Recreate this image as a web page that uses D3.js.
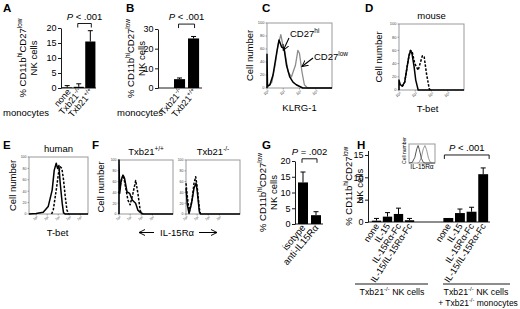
<!DOCTYPE html>
<html><head><meta charset="utf-8">
<script src="https://cdn.jsdelivr.net/npm/d3@7"></script>
<style>body{margin:0;background:#fff} svg{display:block} text{font-family:"Liberation Sans",Arial,sans-serif}</style>
</head><body><svg id="c" width="520" height="309"></svg>
<script>
// ---------------- DATA ----------------
// Panel A
const aCategories = ["none", "Txb21{-/-}", "Txb21{+/+}"];
const aValues = [0.2, 0.4, 15.5];
const aErrors = [0.6, 1.0, 3.6];
const aTicks = [0, 5, 10, 15, 20];
// Panel B
const bCategories = ["Txb21{-/-}", "Txb21{+/+}"];
const bValues = [4.5, 25.2];
const bErrors = [0.6, 1.0];
const bTicks = [0, 10, 20, 30];
// Panel G
const gCategories = ["isotype", "anti-IL15Rα"];
const gValues = [13.2, 2.8];
const gErrors = [3.3, 1.1];
const gTicks = [0, 5, 10, 15, 20];
// Panel H
const hCategories = ["none", "IL-15", "IL-15Rα-Fc", "IL-15/IL-15Rα-Fc"];
const hValuesNK = [0.3, 1.2, 1.8, 0.4];
const hErrorsNK = [0.5, 0.9, 1.3, 0.4];
const hValuesMono = [0.9, 2.0, 2.3, 10.7];
const hErrorsMono = [0, 0.9, 1.0, 1.4];
const hTicks = [0, 5, 10, 15];
const hGroupLabels = [["Txb21{-/-} NK cells"], ["Txb21{-/-} NK cells", "+ Txb21{-/-} monocytes"]];
// Flow histograms: [log10 fluorescence, % of max]
const histYTicks = [0, 20, 40, 60, 80, 100];
const cCD27hi = [[0,0],[0,52],[0.03,3],[0.18,5],[0.37,20],[0.6,55],[0.74,74],[0.9,63],[1.05,61],[1.2,35],[1.4,17],[1.6,9],[1.8,5],[2.2,0],[4,0]];
const cCD27low = [[0,0],[0.3,9],[0.5,35],[0.68,66],[0.85,82],[1.0,63],[1.1,55],[1.3,25],[1.5,17],[1.75,35],[1.9,58],[2.0,53],[2.15,25],[2.3,5],[2.5,0],[4,0]];
const dSolid = [[0,0],[0,15],[0.08,8],[0.2,6],[0.35,12],[0.5,35],[0.62,53],[0.72,60],[0.8,55],[0.93,35],[1.03,15],[1.18,0],[4,0]];
const dDashed = [[0.2,5],[0.35,12],[0.5,35],[0.56,45],[0.7,60],[0.82,57],[0.97,40],[1.18,30],[1.32,42],[1.44,52],[1.55,50],[1.69,25],[1.86,2],[1.94,0]];
const eSolid = [[-0.65,0],[0,1],[0.64,3],[1.09,13],[1.45,42],[1.64,77],[1.82,89],[1.94,80],[2.06,85],[2.18,54],[2.36,19],[2.48,2],[2.64,0],[4.7,0]];
const eDashed = [[1.4,0],[1.55,7],[1.82,42],[2.03,72],[2.18,83],[2.33,80],[2.48,60],[2.64,30],[2.79,7],[2.94,0]];
const fWtSolid = [[0,0],[0,100],[0.06,38],[0.2,63],[0.36,72],[0.5,66],[0.72,41],[0.96,38],[1.19,26],[1.49,20],[1.7,7],[1.85,4],[2.15,0],[4.85,0]];
const fWtDashed = [[0,38],[0.15,57],[0.36,72],[0.5,60],[0.8,26],[1.0,17],[1.25,38],[1.5,62],[1.7,38],[1.9,7],[2.05,0]];
const fKoSolid = [[0,48],[0.12,17],[0.27,1],[0.5,20],[0.72,48],[0.9,57],[1.0,44],[1.2,4],[1.3,0],[4.85,0]];
const fKoDashed = [[0,57],[0.15,26],[0.3,4],[0.54,26],[0.72,57],[0.87,69],[1.0,51],[1.2,10],[1.3,0]];
const insetBlack = [[0,0],[0.5,3],[0.9,30],[1.2,75],[1.4,92],[1.6,70],[1.9,25],[2.2,3],[2.5,0],[4,0]];
const insetGray = [[1.3,0],[1.6,5],[1.9,30],[2.2,75],[2.45,92],[2.7,70],[3.0,25],[3.3,3],[3.6,0]];

// ---------------- HELPERS ----------------
const svg = d3.select("#c");
svg.append("defs").append("marker").attr("id","arr").attr("viewBox","0 0 8 8")
  .attr("refX",7).attr("refY",4).attr("markerWidth",7).attr("markerHeight",7).attr("orient","auto")
  .attr("markerUnits","userSpaceOnUse")
  .append("path").attr("d","M0,0.5 L7,4 L0,7.5").attr("fill","none").attr("stroke","#000").attr("stroke-width",1.1);

function rich(sel, str, fs) {
  const parts = str.split(/(\{[^}]*\})/).filter(s => s.length);
  let cur = 0;
  parts.forEach(p => {
    const isSup = p[0] === "{";
    const txt = isSup ? p.slice(1, -1) : p;
    const target = isSup ? -fs * 0.4 : 0;
    const ts = sel.append("tspan").text(txt).attr("dy", target - cur);
    if (isSup) ts.attr("font-size", fs * 0.68);
    cur = target;
  });
  return sel;
}
function text(g, x, y, str, fs, anchor, rot) {
  const t = g.append("text").attr("font-size", fs).attr("text-anchor", anchor || "start")
    .attr("transform", `translate(${x},${y})` + (rot ? ` rotate(${rot})` : ""));
  return rich(t, str, fs);
}
function letter(x, y, s) {
  svg.append("text").attr("x", x).attr("y", y).attr("font-size", 11.5).attr("font-weight", "bold").text(s);
}

function barPanel(o) {
  const g = svg.append("g");
  const y = d3.scaleLinear().domain([0, o.yMax]).range([o.y0, o.y1]);
  const ax = g.append("g").attr("transform", `translate(${o.axisX},0)`)
    .call(d3.axisLeft(y).tickValues(o.ticks).tickSize(3).tickSizeOuter(0).tickPadding(1.5));
  ax.selectAll("text").attr("font-size", 9).attr("font-family", '"Liberation Sans",Arial,sans-serif').attr("fill","#000");
  ax.selectAll("line,path").attr("stroke", "#000").attr("stroke-width", 0.9);
  g.append("line").attr("x1", o.axisX).attr("x2", o.baseEnd).attr("y1", y(0)).attr("y2", y(0))
    .attr("stroke", "#000").attr("stroke-width", 0.9);
  const scales = [];
  o.groups.forEach(gr => {
    const xs = d3.scaleBand().domain(gr.cats).range(gr.range).paddingInner(o.padIn).paddingOuter(o.padOut);
    scales.push(xs);
    gr.cats.forEach((c, i) => {
      const bx = xs(c), w = xs.bandwidth(), cx = bx + w / 2;
      g.append("rect").attr("x", bx).attr("y", y(gr.vals[i])).attr("width", w)
        .attr("height", y(0) - y(gr.vals[i])).attr("fill", "#000");
      if (gr.errs[i] > 0) {
        const top = y(gr.vals[i] + gr.errs[i]);
        g.append("line").attr("x1", cx).attr("x2", cx).attr("y1", y(gr.vals[i])).attr("y2", top).attr("stroke", "#000").attr("stroke-width", 1);
        g.append("line").attr("x1", cx - 2.5).attr("x2", cx + 2.5).attr("y1", top).attr("y2", top).attr("stroke", "#000").attr("stroke-width", 1);
      }
      text(g, cx + o.lblDx, y(0) + o.lblDy, c.trim(), o.lblFs, "end", o.angle);
    });
  });
  // y label
  text(g, o.yl1x, (o.y0 + o.y1) / 2, "% CD11b{hi}CD27{low}", 9.5, "middle", -90);
  text(g, o.yl2x, (o.y0 + o.y1) / 2, "NK cells", 9.5, "middle", -90);
  // bracket
  if (o.bracket) {
    const b = o.bracket, xs = scales[b.group];
    const x1 = xs(b.from) + xs.bandwidth() / 2 - 1, x2 = xs(b.to) + xs.bandwidth() / 2 + 1;
    const yb = y(b.at);
    g.append("path").attr("d", `M${x1},${yb + 4}V${yb}H${x2}V${yb + 4}`).attr("fill", "none").attr("stroke", "#000").attr("stroke-width", 0.9);
    const t = g.append("text").attr("x", (x1 + x2) / 2).attr("y", yb - 4).attr("text-anchor", "middle").attr("font-size", 9.5);
    t.append("tspan").attr("font-style", "italic").text("P");
    t.append("tspan").text(" " + b.label);
  }
  return { g, y, scales };
}

const line = (x, y) => d3.line().x(d => x(d[0])).y(d => y(d[1]));
function histPanel(o) {
  const g = svg.append("g");
  const x = d3.scaleLinear().domain(o.xDomain).range([o.x0, o.x1]);
  const y = d3.scaleLinear().domain([0, 100]).range([o.y1, o.y0]);
  g.append("rect").attr("x", o.x0).attr("y", o.y0).attr("width", o.x1 - o.x0).attr("height", o.y1 - o.y0)
    .attr("fill", "none").attr("stroke", "#999").attr("stroke-width", 1);
  if (o.tickFs) {
    histYTicks.forEach(v => {
      g.append("line").attr("x1", o.x0 - 1.5).attr("x2", o.x0).attr("y1", y(v)).attr("y2", y(v)).attr("stroke", "#666").attr("stroke-width", 0.6);
      g.append("text").attr("x", o.x0 - 2.5).attr("y", y(v) + 1.3).attr("font-size", o.tickFs).attr("text-anchor", "end").attr("fill", "#444").text(v);
    });
    o.xTicks.forEach(v => {
      g.append("line").attr("x1", x(v)).attr("x2", x(v)).attr("y1", o.y1).attr("y2", o.y1 + 1.5).attr("stroke", "#666").attr("stroke-width", 0.6);
      const t = g.append("text").attr("font-size", o.tickFs).attr("fill", "#444").attr("text-anchor", "middle")
        .attr("transform", `translate(${x(v)},${o.y1 + 2 + o.tickFs}) rotate(-30)`);
      rich(t, "10{" + v + "}", o.tickFs);
    });
  }
  o.series.forEach(s => {
    g.append("path").attr("d", line(x, y)(s.data)).attr("fill", "none").attr("stroke", s.color)
      .attr("stroke-width", s.w).attr("stroke-dasharray", s.dash || null).attr("stroke-linejoin", "round");
  });
  if (o.ylabel) text(g, o.ylabel[0], (o.y0 + o.y1) / 2 + (o.ylabel[2] || 0), "Cell number", o.ylabel[1], "middle", -90);
  if (o.title) text(g, (o.x0 + o.x1) / 2, o.y0 - 5, o.title, 9.5, "middle");
  if (o.xlabel) text(g, (o.x0 + o.x1) / 2 + (o.xlabel[2] || 0), o.xlabel[0], o.xlabel[3] || "", o.xlabel[1], "middle");
  return { g, x, y };
}

// ---------------- PANELS ----------------
// A
letter(3, 12, "A");
barPanel({ axisX: 61, y0: 88, y1: 28, yMax: 20, ticks: aTicks, baseEnd: 96,
  padIn: 0.12, padOut: 0.05, groups: [{ cats: aCategories, vals: aValues, errs: aErrors, range: [61.5, 96] }],
  lblDx: 4, lblDy: 4, angle: -50, lblFs: 9, yl1x: 26, yl2x: 37,
  bracket: { group: 0, from: aCategories[1], to: aCategories[2], at: 21.5, label: "< .001" } });
text(svg, 3, 116, "monocytes", 9.5, "start");

// B
letter(126, 12, "B");
barPanel({ axisX: 158, y0: 88, y1: 29, yMax: 30, ticks: bTicks, baseEnd: 202,
  padIn: 0.21, padOut: 0.1, groups: [{ cats: bCategories, vals: bValues, errs: bErrors, range: [172.6, 200.5] }],
  lblDx: 4, lblDy: 4, angle: -50, lblFs: 9, yl1x: 134, yl2x: 144.5,
  bracket: { group: 0, from: bCategories[0], to: bCategories[1], at: 32.5, label: "< .001" } });
text(svg, 117, 116, "monocytes", 9.5, "start");

// C
letter(262, 12, "C");
const pc = histPanel({ x0: 267, x1: 332, y0: 23, y1: 88, xDomain: [0, 4], xTicks: [0, 1, 2, 3], tickFs: 4,
  series: [{ data: cCD27low, color: "#8c8c8c", w: 1.3 }, { data: cCD27hi, color: "#000", w: 1.5 }],
  ylabel: [253, 9.5], xlabel: [111, 9.5, 0, "KLRG-1"] });
text(pc.g, 290, 37, "CD27{hi}", 9.5, "start");
text(pc.g, 314, 60, "CD27{low}", 9.5, "start");
pc.g.append("line").attr("x1", 289).attr("y1", 38).attr("x2", pc.x(1.0)).attr("y2", pc.y(58)).attr("stroke", "#000").attr("stroke-width", 1.1).attr("marker-end", "url(#arr)");
pc.g.append("line").attr("x1", 313).attr("y1", 58).attr("x2", pc.x(2.15)).attr("y2", pc.y(33)).attr("stroke", "#000").attr("stroke-width", 1.1).attr("marker-end", "url(#arr)");

// D
letter(365, 12, "D");
histPanel({ x0: 399, x1: 464, y0: 24, y1: 90, xDomain: [0, 4], xTicks: [0, 1, 2, 3], tickFs: 4,
  series: [{ data: dSolid, color: "#000", w: 1.5 }, { data: dDashed, color: "#000", w: 1.5, dash: "2.5,1.5" }],
  ylabel: [382, 9.5], title: "mouse", xlabel: [112, 9.5, -4, "T-bet"] });

// E
letter(3, 149, "E");
histPanel({ x0: 29, x1: 88, y0: 157, y1: 214, xDomain: [-0.65, 4.7], xTicks: [0, 1, 2, 3, 4], tickFs: 3.5,
  series: [{ data: eSolid, color: "#000", w: 1.5 }, { data: eDashed, color: "#000", w: 1.5, dash: "2.5,1.5" }],
  ylabel: [16, 9.5], title: "human", xlabel: [236, 9.5, -1, "T-bet"] });

// F
letter(92, 149, "F");
histPanel({ x0: 119, x1: 173, y0: 160, y1: 214, xDomain: [0, 4.85], xTicks: [0, 1, 2, 3], tickFs: 3.5,
  series: [{ data: fWtSolid, color: "#000", w: 1.5 }, { data: fWtDashed, color: "#000", w: 1.5, dash: "2.5,1.5" }],
  ylabel: [104, 9.5], title: "Txb21{+/+}" });
const pf = histPanel({ x0: 186, x1: 240, y0: 160, y1: 214, xDomain: [0, 4.85], xTicks: [0, 1, 2, 3], tickFs: 3.5,
  series: [{ data: fKoSolid, color: "#000", w: 1.5 }, { data: fKoDashed, color: "#000", w: 1.5, dash: "2.5,1.5" }],
  title: "Txb21{-/-}" });
text(pf.g, 177, 236, "IL-15Rα", 9.5, "middle");
pf.g.append("line").attr("x1", 154).attr("x2", 139).attr("y1", 232.5).attr("y2", 232.5).attr("stroke", "#000").attr("stroke-width", 1).attr("marker-end", "url(#arr)");
pf.g.append("line").attr("x1", 199).attr("x2", 217).attr("y1", 232.5).attr("y2", 232.5).attr("stroke", "#000").attr("stroke-width", 1).attr("marker-end", "url(#arr)");

// G
letter(262, 149, "G");
barPanel({ axisX: 295, y0: 224, y1: 161, yMax: 20, ticks: gTicks, baseEnd: 323,
  padIn: 0.23, padOut: 0.1, groups: [{ cats: gCategories, vals: gValues, errs: gErrors, range: [296.7, 322.3] }],
  lblDx: 3, lblDy: 4, angle: -50, lblFs: 9.5, yl1x: 266, yl2x: 277,
  bracket: { group: 0, from: gCategories[0], to: gCategories[1], at: 20.7, label: "= .002" } });

// H
letter(357, 149, "H");
const ph = barPanel({ axisX: 368, y0: 222, y1: 150.5, yMax: 16, ticks: hTicks, baseEnd: 490,
  padIn: 0.15, padOut: 0.075,
  groups: [{ cats: hCategories, vals: hValuesNK, errs: hErrorsNK, range: [371, 415] },
           { cats: hCategories.map(c => c + " "), vals: hValuesMono, errs: hErrorsMono, range: [442.5, 489] }],
  lblDx: 3, lblDy: 4, angle: -57, lblFs: 9, yl1x: 352, yl2x: 363 });
// H bracket across monocyte group
{
  const xs = ph.scales[1], yb = ph.y(15);
  const x1 = xs(hCategories[0] + " ") + 1, x2 = xs(hCategories[3] + " ") + xs.bandwidth() + 1;
  ph.g.append("path").attr("d", `M${x1},${yb + 4}V${yb}H${x2}V${yb + 4}`).attr("fill", "none").attr("stroke", "#000").attr("stroke-width", 0.9);
  const t = ph.g.append("text").attr("x", (x1 + x2) / 2).attr("y", yb - 4).attr("text-anchor", "middle").attr("font-size", 9.5);
  t.append("tspan").attr("font-style", "italic").text("P");
  t.append("tspan").text(" < .001");
}
// group underlines and labels
ph.g.append("line").attr("x1", 355).attr("x2", 428).attr("y1", 284).attr("y2", 284).attr("stroke", "#000").attr("stroke-width", 0.9);
ph.g.append("line").attr("x1", 443).attr("x2", 510).attr("y1", 284).attr("y2", 284).attr("stroke", "#000").attr("stroke-width", 0.9);
text(ph.g, 392, 295, hGroupLabels[0][0], 8.8, "middle");
text(ph.g, 476, 295, hGroupLabels[1][0], 8.8, "middle");
text(ph.g, 478, 305.5, hGroupLabels[1][1], 8.5, "middle");
// H inset histogram
histPanel({ x0: 409, x1: 435, y0: 144, y1: 163, xDomain: [0, 4], xTicks: [],
  series: [{ data: insetGray, color: "#999", w: 1 }, { data: insetBlack, color: "#555", w: 1 }],
  ylabel: [406, 5, -3], xlabel: [169, 6.5, 0, "IL-15Rα"] });
</script></body></html>
